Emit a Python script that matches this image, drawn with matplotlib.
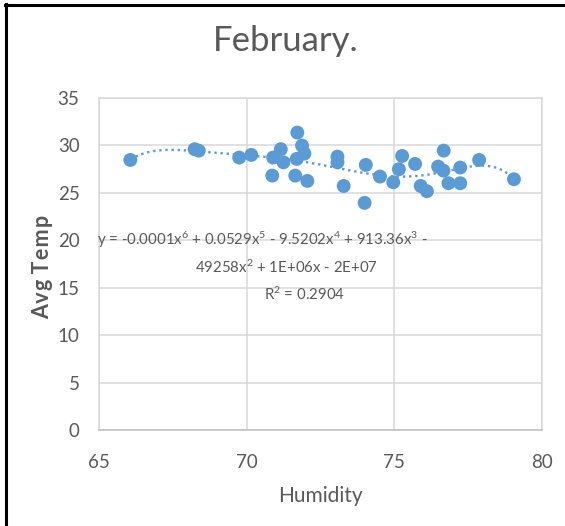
import numpy as np
import matplotlib
matplotlib.use("Agg")
import matplotlib.pyplot as plt
from matplotlib.lines import Line2D

plt.rcParams['font.family'] = ['Lato', 'DejaVu Sans']
plt.rcParams['mathtext.fontset'] = 'custom'
plt.rcParams['mathtext.rm'] = 'Lato'
plt.rcParams['mathtext.it'] = 'Lato'
plt.rcParams['mathtext.bf'] = 'Lato:bold'

humidity = [66.06, 68.24, 68.38, 69.75, 70.16, 70.87, 70.90, 71.16, 71.25, 71.65,
            71.72, 71.88, 71.70, 71.96, 72.06, 73.08, 73.08, 73.29, 74.04, 74.00,
            74.52, 74.97, 75.16, 75.27, 75.71, 75.90, 76.11, 76.49, 76.67, 76.68,
            76.84, 77.24, 77.24, 77.88, 79.06]
avg_temp = [28.45, 29.58, 29.43, 28.70, 28.98, 26.80, 28.70, 29.58, 28.20, 26.80,
            31.33, 29.96, 28.56, 29.12, 26.24, 28.80, 28.20, 25.71, 27.93, 23.93,
            26.70, 26.10, 27.47, 28.87, 28.03, 25.71, 25.16, 27.75, 27.33, 29.43,
            26.00, 27.65, 26.00, 28.45, 26.42]
x_ticks = [65, 70, 75, 80]
y_ticks = [0, 5, 10, 15, 20, 25, 30, 35]
eq_lines = ["y = -0.0001x$^{6}$ + 0.0529x$^{5}$ - 9.5202x$^{4}$ + 913.36x$^{3}$ -",
            "49258x$^{2}$ + 1E+06x - 2E+07",
            "R$^{2}$ = 0.2904"]

blue = '#5B9BD5'
gray_text = '#595959'
grid_c = '#D9D9D9'

fig = plt.figure(figsize=(5.65, 5.26), dpi=100)
ax = fig.add_axes([99/565, 1-430.3/526, (541.7-99)/565, (430.3-97.7)/526])

x = np.array(humidity)
y = np.array(avg_temp)
p = np.polynomial.Polynomial.fit(x, y, 6)
xs = np.linspace(x.min(), x.max(), 300)
ax.plot(xs, p(xs), linestyle=(0, (1, 1.6)), color=blue, lw=1.7, zorder=2)
ax.scatter(x, y, s=100, color=blue, zorder=3, edgecolors='none')

ax.set_xlim(65, 80)
ax.set_ylim(0, 35)
ax.set_xticks(x_ticks)
ax.set_yticks(y_ticks)
ax.grid(True, color=grid_c, lw=1.1, zorder=0)
ax.set_axisbelow(True)
for s in ax.spines.values():
    s.set_color(grid_c)
    s.set_linewidth(1.1)
ax.spines['bottom'].set_color('#BFBFBF')
ax.tick_params(axis='both', length=0, labelsize=13.5, labelcolor=gray_text)
ax.tick_params(axis='x', pad=17)
ax.tick_params(axis='y', pad=14)

ax.set_xlabel("Humidity", fontsize=15, color=gray_text, labelpad=11)
ax.set_ylabel("A\u200av\u200ag T\u200ae\u200am\u200ap",
              fontsize=15.5, color=gray_text, fontweight='bold')
ax.yaxis.set_label_coords(-0.104, 0.49)

fig.text(286/565, 1-41/526, "February.", fontsize=25, color=gray_text,
         ha='center', va='center')

eq_pos = [(262, 240), (286, 267), (304, 294)]
for (px, py), t in zip(eq_pos, eq_lines):
    fig.text(px/565, 1-py/526, t, fontsize=10.8, color=gray_text,
             ha='center', va='center')

# black frame lines (top and left)
fig.add_artist(Line2D([5/565, 1], [1-4.5/526, 1-4.5/526], color='black', lw=2.2,
                      transform=fig.transFigure))
fig.add_artist(Line2D([6/565, 6/565], [0, 1-3.5/526], color='black', lw=2.2,
                      transform=fig.transFigure))

fig.savefig("out.png", dpi=100)
